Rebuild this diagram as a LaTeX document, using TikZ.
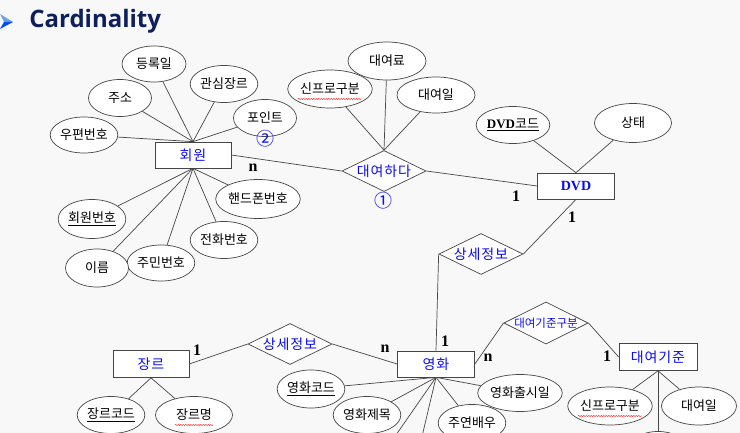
\documentclass[tikz,border=0pt]{standalone}
\usepackage{fontspec}
\setmainfont{Liberation Serif}
\newfontfamily\kr{Noto Sans CJK KR}
\newfontfamily\krsp[LetterSpace=6]{Noto Sans CJK KR}
\newfontfamily\ttl{Open Sans}
\usetikzlibrary{shapes.geometric,decorations.pathmorphing}
\definecolor{bgc}{RGB}{248,248,248}
\definecolor{linec}{RGB}{70,70,70}
\definecolor{navy}{RGB}{14,32,92}
\definecolor{entblue}{RGB}{10,10,245}

\begin{document}
\begin{tikzpicture}[x=1pt, y=-1pt, line width=0.7pt,
  ent/.style={draw=linec, fill=white, minimum width=76pt, minimum height=26pt, inner sep=0pt,
    text=entblue, font=\fontsize{14}{14}\selectfont\krsp},
  rel/.style={diamond, aspect=2, draw=linec, fill=white, minimum width=84pt, minimum height=41pt,
    inner sep=0pt, text=entblue, font=\fontsize{14}{14}\selectfont\krsp},
  attr/.style={ellipse, draw=linec, fill=white, minimum width=63pt, minimum height=37pt,
    inner sep=0pt, font=\fontsize{13}{13}\selectfont\kr},
  card/.style={inner sep=0pt, font=\fontsize{16}{16}\selectfont\bfseries},
  circnum/.style={inner sep=0pt, text=entblue, font=\fontsize{18}{18}\selectfont\kr},
  squig/.style={draw=red!85, line width=0.5pt, decorate,
    decoration={snake, amplitude=0.6pt, segment length=2.5pt}}]
  \useasboundingbox (0,0) rectangle (740,433);
  \fill[bgc] (0,0) rectangle (740,433);
  \clip (0,0) rectangle (740,433);

  % title
  \fill[cyan!60!blue!60] (0,14) -- (13,22) -- (4,22) -- cycle;
  \fill[blue!70!cyan] (0,29) -- (13,22) -- (4,22) -- cycle;
  \node[anchor=west, inner sep=0pt, text=navy, font=\fontsize{24}{24}\selectfont\ttl\bfseries]
    (title) at (29,21) {Cardinality};

  % entities and relationships
  \node[ent] (mem) at (193,155) {회원};
  \node[ent, minimum width=77pt] (dvd) at (576,186) {\rmfamily\bfseries DVD};
  \node[ent, minimum height=27pt] (genre) at (151,364) {장르};
  \node[ent, minimum width=77pt] (movie) at (436,364) {영화};
  \node[ent, minimum width=78pt, minimum height=27pt] (std) at (658,357) {대여기준};
  \node[rel] (rent) at (384,171) {대여하다};
  \node[rel] (detA) at (481,254) {상세정보};
  \node[rel] (detB) at (290,344) {상세정보};
  \node[rel, font=\fontsize{11.5}{11.5}\selectfont\kr] (kind) at (546,323) {대여기준구분};

  % attributes
  \node[attr, minimum width=64pt, minimum height=36pt] (regday) at (154,64) {등록일};
  \node[attr] (likegen) at (224,84) {관심장르};
  \node[attr] (addr) at (120,98) {주소};
  \node[attr] (point) at (265,118) {포인트};
  \node[attr, minimum width=62pt, minimum height=36pt] (zip) at (84,135) {우편번호};
  \node[attr, minimum width=62pt, minimum height=39pt] (memno) at (92,219) {\underline{회원번호}};
  \node[attr, minimum width=78pt, minimum height=39pt] (cell) at (258,199) {핸드폰번호};
  \node[attr] (phone) at (224,240) {전화번호};
  \node[attr, minimum height=36pt] (resno) at (161,263) {주민번호};
  \node[attr, minimum height=38pt] (name) at (97,268) {이름};
  \node[attr, minimum width=78pt, minimum height=38pt] (fee) at (387,61) {대여료};
  \node[attr, minimum width=71pt, minimum height=38pt] (newA) at (330,89) {신프로구분};
  \node[attr, minimum width=78pt, minimum height=36pt] (dayA) at (436,95) {대여일};
  \node[attr, minimum width=62pt] (dvdno) at (513,125) {\underline{{\rmfamily\bfseries DVD}코드}};
  \node[attr, minimum width=77pt, minimum height=39pt] (state) at (633,123) {상태};
  \node[attr, minimum width=65pt] (genno) at (111,415) {\underline{장르코드}};
  \node[attr, minimum width=77pt] (genname) at (194,415) {장르명};
  \node[attr, minimum width=61pt, minimum height=38pt] (movno) at (311,389) {\underline{영화코드}};
  \node[attr, minimum width=62pt] (title2) at (367,415) {영화제목};
  \node[attr, minimum width=77pt] (release) at (520,393) {영화출시일};
  \node[attr] (actor) at (472,423) {주연배우};
  \node[attr, minimum width=69pt, minimum height=38pt] (newB) at (610,406) {신프로구분};
  \node[attr, minimum width=75pt, minimum height=38pt] (dayB) at (699,406) {대여일};
  \node[attr, minimum width=60pt] (stdx) at (658,450) {};
  \coordinate (movA) at (389,445);
  \coordinate (movB) at (420,445);

  % spell-check marks
  \draw[squig] ([xshift=-32pt, yshift=-10pt]newA.center) -- ([xshift=32pt, yshift=-10pt]newA.center);
  \draw[squig] ([xshift=-32pt, yshift=-10pt]newB.center) -- ([xshift=32pt, yshift=-10pt]newB.center);
  \draw[squig] ([xshift=-19pt, yshift=-10pt]genname.center) -- ([xshift=19pt, yshift=-10pt]genname.center);

  % connectors
  \foreach \a in {regday,likegen,addr,point,zip}
    \draw[linec] (mem.north) -- (\a);
  \foreach \a in {memno,cell,phone,resno,name}
    \draw[linec] (mem.south) -- (\a);
  \foreach \a in {fee,newA,dayA}
    \draw[linec] (rent.north) -- (\a);
  \foreach \a in {dvdno,state}
    \draw[linec] (dvd.north) -- (\a);
  \foreach \a in {genno,genname}
    \draw[linec] (genre.south) -- (\a);
  \foreach \a in {movno,title2,release,actor,movA,movB}
    \draw[linec] (movie.south) -- (\a);
  \foreach \a in {newB,dayB,stdx}
    \draw[linec] (std.south) -- (\a);
  \draw[linec] (mem.east) -- (rent.west);
  \draw[linec] (rent.east) -- (dvd.west);
  \draw[linec] (dvd.south) -- (detA.east);
  \draw[linec] (detA.west) -- (movie.north);
  \draw[linec] (genre.east) -- (detB.west);
  \draw[linec] (detB.east) -- (movie.west);
  \draw[linec] (movie.east) -- (kind.west);
  \draw[linec] (kind.east) -- (std.west);

  % cardinalities
  \node[card] (cMem) at (253,168) {n};
  \node[card] (cDvdA) at (516,196) {1};
  \node[card] (cDvdB) at (572,217) {1};
  \node[card] (cMovA) at (445,341) {1};
  \node[card] (cGen) at (197,350) {1};
  \node[card] (cMovB) at (385,349) {n};
  \node[card] (cMovC) at (488,358) {n};
  \node[card] (cStd) at (607,356) {1};
  \node[circnum] (one) at (383,201) {①};
  \node[circnum] (two) at (265,139) {②};
\end{tikzpicture}
\end{document}
